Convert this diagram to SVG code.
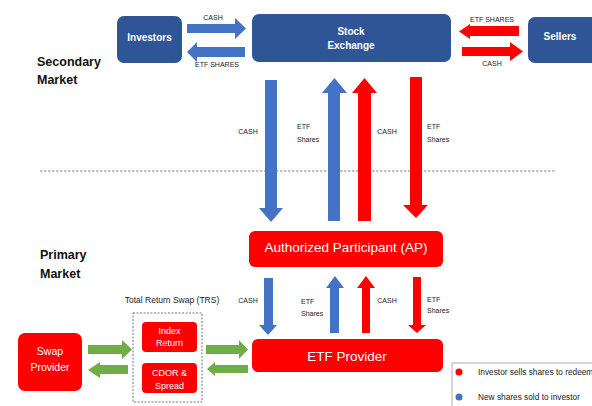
<svg xmlns="http://www.w3.org/2000/svg" width="592" height="406" viewBox="0 0 592 406">
<style>
text{font-family:"Liberation Sans",Arial,sans-serif}
.nb{fill:#2F5597}
.rb{fill:#FF0000}
.wt{fill:#fff;text-anchor:middle}
.lbl{font-size:7px;fill:#222}
.mid{text-anchor:middle}
.blue{fill:#4472C4}
.red{fill:#FF0000}
.green{fill:#70AD47}
.hdr{font-size:12.5px;font-weight:bold;fill:#111}
</style>
<rect width="592" height="406" fill="#fff"/>

<text class="hdr" x="37" y="66">Secondary</text>
<text class="hdr" x="37" y="84">Market</text>
<text class="hdr" x="40" y="259">Primary</text>
<text class="hdr" x="40" y="278">Market</text>
<line x1="40" y1="171" x2="556" y2="171" stroke="#888" stroke-width="1.2" stroke-dasharray="2.5 1.5"/>

<g id="investors"><rect class="nb" x="117" y="16" width="65" height="47" rx="7"/><text class="wt" x="149.5" y="41" font-size="10" font-weight="bold">Investors</text></g>
<g id="stock-exchange"><rect class="nb" x="252" y="14" width="199" height="48" rx="7"/><text class="wt" x="351" y="35" font-size="10" font-weight="bold">Stock</text><text class="wt" x="351" y="49" font-size="10" font-weight="bold">Exchange</text></g>
<g id="sellers"><rect class="nb" x="528" y="17" width="72" height="46" rx="7"/><text class="wt" x="560" y="40" font-size="10" font-weight="bold">Sellers</text></g>
<g id="ap"><rect class="rb" x="249" y="231" width="194" height="36" rx="6"/><text class="wt" x="346" y="252" font-size="13.5">Authorized Participant (AP)</text></g>
<g id="etf-provider"><rect class="rb" x="252" y="339" width="191" height="33" rx="6"/><text class="wt" x="347" y="361" font-size="13.5">ETF Provider</text></g>
<g id="swap-provider"><rect class="rb" x="18" y="333" width="64" height="58" rx="7"/><text class="wt" x="50" y="355" font-size="10.5">Swap</text><text class="wt" x="50" y="371" font-size="10.5">Provider</text></g>
<g id="trs">
<rect x="133" y="313" width="69" height="89" fill="none" stroke="#44546A" stroke-width="0.8" stroke-dasharray="2 1.5"/>
<text class="mid" x="172" y="303" font-size="8.5" fill="#222">Total Return Swap (TRS)</text>
<g id="index-return"><rect class="rb" x="142" y="322" width="55" height="30" rx="4"/><text class="wt" x="169.5" y="334" font-size="9">Index</text><text class="wt" x="169.5" y="346" font-size="9">Return</text></g>
<g id="cdor-spread"><rect class="rb" x="142" y="363" width="55" height="30" rx="4"/><text class="wt" x="169.5" y="376" font-size="9">CDOR &amp;</text><text class="wt" x="169.5" y="389" font-size="9">Spread</text></g>
</g>

<g id="connectors">
<polygon class="blue" points="187,24 235,24 235,18 246,28.5 235,39 235,33 187,33"/>
<polygon class="blue" points="245,47 197,47 197,42 187,52 197,62 197,57 245,57"/>
<text class="lbl mid" x="213" y="20">CASH</text>
<text class="lbl mid" x="217" y="67">ETF SHARES</text>
<polygon class="red" points="519,26 470,26 470,24 459,31.5 470,39 470,36 519,36"/>
<polygon class="red" points="462,47 510,47 510,42 523,51.5 510,61 510,56 462,56"/>
<text class="lbl mid" x="492" y="22">ETF SHARES</text>
<text class="lbl mid" x="492" y="66">CASH</text>

<polygon class="blue" points="265,80 277,80 277,208 283,208 271,222 259,208 265,208"/>
<polygon class="blue" points="328,221 340,221 340,93 347,93 334.5,78 322,93 328,93"/>
<polygon class="red" points="358,221 371,221 371,93 377,93 364.5,78 352,93 358,93"/>
<polygon class="red" points="410,77 422,77 422,205 428,205 416,218 403,205 410,205"/>
<text class="lbl mid" x="248" y="134">CASH</text>
<text class="lbl" x="297" y="129">ETF</text><text class="lbl" x="297" y="142">Shares</text>
<text class="lbl mid" x="387" y="134">CASH</text>
<text class="lbl" x="427" y="129">ETF</text><text class="lbl" x="427" y="142">Shares</text>

<polygon class="blue" points="264,278 273,278 273,325 277,325 268,335 259,325 264,325"/>
<polygon class="blue" points="330,333 339,333 339,288 344,288 335,276 326,288 330,288"/>
<polygon class="red" points="362,333 370,333 370,288 375,288 366,276 357,288 362,288"/>
<polygon class="red" points="413,277 421,277 421,325 426,325 417,333 408,325 413,325"/>
<text class="lbl mid" x="248" y="303">CASH</text>
<text class="lbl" x="301" y="304">ETF</text><text class="lbl" x="301" y="316">Shares</text>
<text class="lbl mid" x="387" y="303">CASH</text>
<text class="lbl" x="427" y="302">ETF</text><text class="lbl" x="427" y="313">Shares</text>

<polygon class="green" points="88,345 122,345 122,340 132,349.5 122,359 122,354 88,354"/>
<polygon class="green" points="128,365 100,365 100,362 88,370 100,378 100,374 128,374"/>
<polygon class="green" points="206,345 239,345 239,340 248,349.5 239,359 239,354 206,354"/>
<polygon class="green" points="248,365 215,365 215,362 207,369 215,376 215,373 248,373"/>
</g>

<g id="legend">
<rect x="452" y="363" width="150" height="50" fill="#fff" stroke="#999" stroke-width="0.8"/>
<circle cx="459" cy="372" r="3.5" fill="#FF0000"/>
<text x="478" y="375" font-size="8.3" fill="#222">Investor sells shares to redeem</text>
<circle cx="459" cy="397" r="3.5" fill="#4472C4"/>
<text x="478" y="400" font-size="8.3" fill="#222">New shares sold to investor</text>
</g>
</svg>
